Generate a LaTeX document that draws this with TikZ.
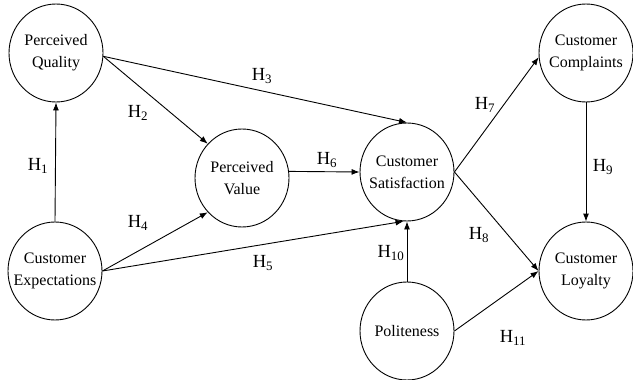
\documentclass[tikz,border=0pt]{standalone}
\usepackage{fontspec}
\setmainfont{Liberation Serif}
\usetikzlibrary{positioning,shapes.geometric,arrows.meta}

\begin{document}
\begin{tikzpicture}[x=1pt,y=-1pt,
		construct/.style={draw, ellipse, line width=0.9pt, minimum width=94pt, minimum height=98pt, inner xsep=-10pt, inner ysep=0pt, align=center, font=\fontsize{16}{22}\selectfont},
		hyp/.style={font=\fontsize{18.5}{22}\selectfont, inner sep=1pt},
		link/.style={-{Latex[length=8pt,width=6pt]}, line width=0.9pt}]
		\useasboundingbox (0,0) rectangle (633,380);
		
		\node[construct] (pq) at (56,53) {Perceived\\Quality};
		\node[construct] (ce) at (55,271) {Customer\\Expectations};
		\node[construct] (pv) at (242,178) {Perceived\\Value};
		\node[construct] (cs) at (407,172) {Customer\\Satisfaction};
		\node[construct] (po) at (407,331) {Politeness};
		\node[construct] (cc) at (586,53) {Customer\\Complaints};
		\node[construct] (cl) at (586,271) {Customer\\Loyalty};
		
		\node[hyp] (h1) at (38,166) {H\textsubscript{1}};
		\node[hyp] (h2) at (138,113) {H\textsubscript{2}};
		\node[hyp] (h3) at (262,76) {H\textsubscript{3}};
		\node[hyp] (h4) at (138,223) {H\textsubscript{4}};
		\node[hyp] (h5) at (263,263) {H\textsubscript{5}};
		\node[hyp] (h6) at (327,160) {H\textsubscript{6}};
		\node[hyp] (h7) at (485,105) {H\textsubscript{7}};
		\node[hyp] (h8) at (479,235) {H\textsubscript{8}};
		\node[hyp] (h9) at (603,167) {H\textsubscript{9}};
		\node[hyp] (h10) at (391,253) {H\textsubscript{10}};
		\node[hyp] (h11) at (513,338) {H\textsubscript{11}};
		
		\draw[link] (ce.north)--(pq.south);
		\draw[link] (pq.-4)--(pv.135);
		\draw[link] (pq.-4)--(cs.north);
		\draw[link] (ce.east)--(pv.-135);
		\draw[link] (ce.east)--(cs.-94);
		\draw[link] (pv.8)--(cs.west);
		\draw[link] (cs.east)--(cc.185);
		\draw[link] (cs.east)--(cl.west);
		\draw[link] (cc.south)--(cl.north);
		\draw[link] (po.north)--(cs.south);
		\draw[link] (po.east)--(cl.west);
	\end{tikzpicture}
\end{document}
